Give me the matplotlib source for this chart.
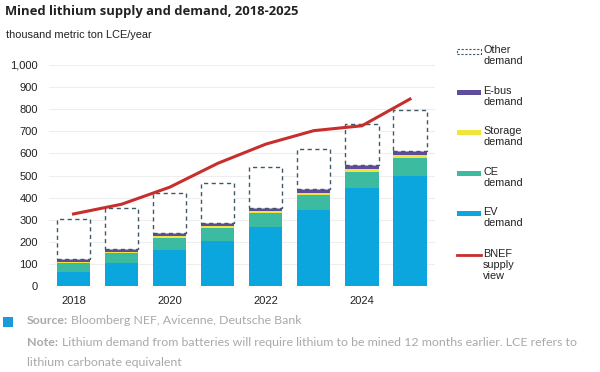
import matplotlib.pyplot as plt
from matplotlib.patches import Rectangle
from matplotlib.lines import Line2D

years = [2018, 2019, 2020, 2021, 2022, 2023, 2024, 2025]
ev = [65, 103, 163, 204, 268, 345, 442, 498]
ce = [40, 45, 55, 60, 64, 68, 75, 83]
storage = [4, 5, 6, 7, 8, 10, 11, 12]
ebus = [13, 14, 14, 13, 14, 17, 18, 18]
other = [183, 185, 181, 181, 183, 181, 186, 185]
supply = [326, 370, 447, 555, 642, 703, 725, 846]

c_ev = '#0ba6de'
c_ce = '#3cbba0'
c_st = '#f3e43c'
c_eb = '#5f4c9a'
c_other = '#3f5866'
c_line = '#c62f2b'

plt.rcParams['font.family'] = ['Liberation Sans', 'DejaVu Sans']

fig = plt.figure(figsize=(6, 3.72), dpi=100)
ax = fig.add_axes([49/600, 1-286/372, (435-49)/600, 221/372])

w = 0.69
b = [0]*len(years)
for vals, col in [(ev, c_ev), (ce, c_ce), (storage, c_st), (ebus, c_eb)]:
    ax.bar(years, vals, w, bottom=b, color=col, zorder=2)
    b = [x + y for x, y in zip(b, vals)]
ax.bar(years, other, w, bottom=b, facecolor='white', edgecolor=c_other,
       linestyle=(0, (3, 2.5)), linewidth=1.0, zorder=2)
ax.plot(years, supply, color=c_line, lw=2.2, zorder=3, clip_on=False)

ax.set_xlim(2017.49, 2025.52)
ax.set_ylim(0, 1000)
ax.set_yticks(range(0, 1001, 100))
ax.set_yticklabels([f'{v:,}' for v in range(0, 1001, 100)])
ax.set_xticks([2018, 2020, 2022, 2024])
ax.tick_params(length=0, labelsize=8, colors='#222222', pad=7)
ax.tick_params(axis='y', pad=8)
ax.grid(axis='y', color='#eeeeee', lw=0.8, zorder=0)
for s in ax.spines.values():
    s.set_visible(False)

fig.text(5/600, 1-12/372, 'Mined lithium supply and demand, 2018-2025',
         fontsize=9.4, fontweight='bold', family='Open Sans', color='#222222', va='center')
fig.text(6/600, 1-35/372, 'thousand metric ton LCE/year', fontsize=7.9,
         color='#222222', va='center')

# legend
names = ['Other\ndemand', 'E-bus\ndemand', 'Storage\ndemand', 'CE\ndemand',
         'EV\ndemand', 'BNEF\nsupply\nview']
cols = [None, c_eb, c_st, c_ce, c_ev, c_line]
ys = [51, 92, 132, 173, 213, 255]
for n, c, y in zip(names, cols, ys):
    fy = 1 - y/372
    if c is None:
        fig.patches.append(Rectangle((457/600, fy - 2.5/372), 24/600, 5/372,
                                     transform=fig.transFigure, facecolor='white',
                                     edgecolor=c_other, linestyle=(0, (2, 1.5)), lw=0.8))
    elif c == c_line:
        fig.lines.append(Line2D([457/600, 481/600], [fy, fy], transform=fig.transFigure,
                                color=c, lw=2))
    else:
        fig.patches.append(Rectangle((457/600, fy - 2.5/372), 24/600, 5/372,
                                     transform=fig.transFigure, color=c, lw=0))
    fig.text(483/600, fy + 6/372, n, fontsize=7.8, color='#222222', va='top',
             linespacing=1.15)

# footer
fig.patches.append(Rectangle((3/600, 1-327/372), 10/600, 10/372,
                             transform=fig.transFigure, color='#1a9ad6', lw=0))
ft = dict(fontsize=8.9, color='#a9a9a9', va='center', family='Lato')
fig.text(27/600, 1-321/372, 'Source:', fontweight='bold', **ft)
fig.text(71/600, 1-321/372, 'Bloomberg NEF, Avicenne, Deutsche Bank', **ft)
fig.text(27/600, 1-343/372, 'Note:', fontweight='bold', **ft)
fig.text(62/600, 1-343/372, 'Lithium demand from batteries will require lithium to be mined 12 months earlier. LCE refers to', **ft)
fig.text(27/600, 1-363/372, 'lithium carbonate equivalent', **ft)

fig.savefig('out.png', dpi=100)
